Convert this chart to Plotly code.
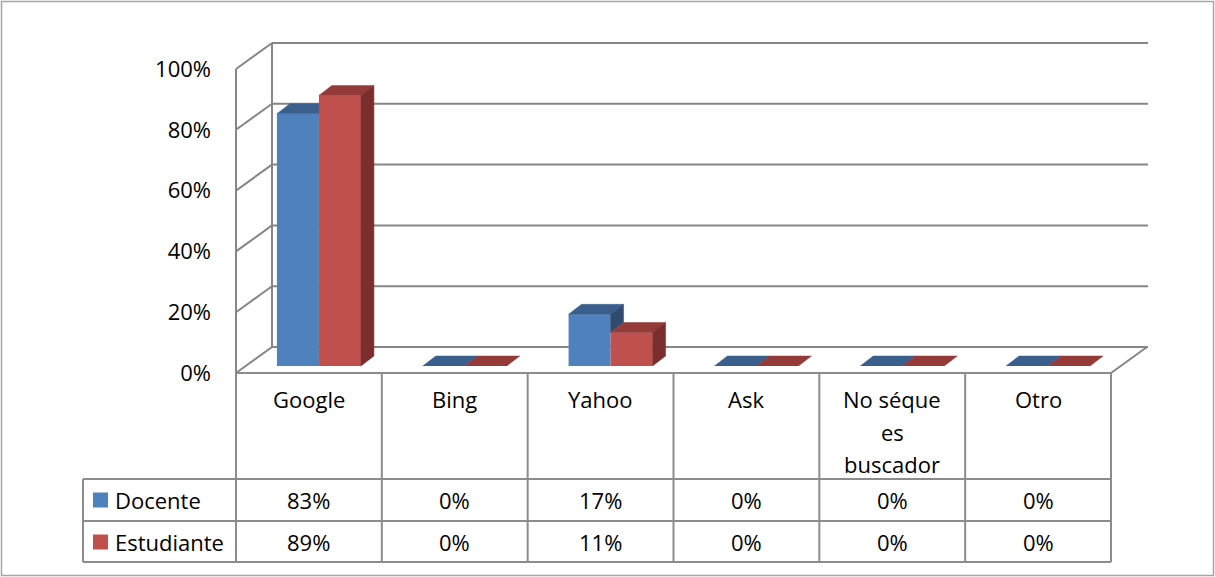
import plotly.graph_objects as go

# ---------------- data ----------------
categories = ["Google", "Bing", "Yahoo", "Ask", "No séque<br>es<br>buscador", "Otro"]
series_names = ["Docente", "Estudiante"]
docente = [83, 0, 17, 0, 0, 0]
estudiante = [89, 0, 11, 0, 0, 0]
y_ticks = [0, 20, 40, 60, 80, 100]
y_tick_labels = [f"{v}%" for v in y_ticks]

# ---------------- styling / geometry (pixels) ----------------
W, H = 1215, 577
FONT = "Open Sans"
FS = 22
GRID = "#868686"
TABLE = "#8C8C8C"
BLUE, BLUE_TOP, BLUE_SIDE = "#4F81BD", "#3B5F8C", "#2F4B70"
RED, RED_TOP, RED_SIDE = "#C0504D", "#943B39", "#7A2E2D"

FX0, FX1 = 236, 1111          # front plane x extent
FY0, FY100 = 373, 69          # front plane y for 0% / 100%
DEPTH_X, DEPTH_Y = 36, -26    # front -> back wall offset
BAR_DX, BAR_DY = 10, -7       # front -> bar plane offset
TOP_DX, TOP_DY = 13, -10      # bar depth
BAR_W_PX = 42
ROW_TOP, ROW_MID, ROW_BOT = 479, 521, 562
LABEL_X0 = 83

n = len(categories)
CW = (FX1 - FX0) / n
PXPU = (FY0 - FY100) / 100.0   # pixels per percent


def px(x):
    return x / W


def py(y):
    return 1 - y / H


def fy(v):
    return FY0 - v * PXPU


def by(v):
    return FY0 + DEPTH_Y - v * PXPU


fig = go.Figure()

bw = BAR_W_PX / CW
ddx = TOP_DX / CW
ddy = -TOP_DY / PXPU

fig.add_trace(go.Bar(x=list(range(n)), y=docente, width=bw, offset=-bw, name=series_names[0],
                     marker=dict(color=BLUE, line=dict(width=0)), showlegend=False))
fig.add_trace(go.Bar(x=list(range(n)), y=estudiante, width=bw, offset=0, name=series_names[1],
                     marker=dict(color=RED, line=dict(width=0)), showlegend=False))

# 3D faces built from the values
bt_x, bt_y, bs_x, bs_y, rt_x, rt_y, rs_x, rs_y = [], [], [], [], [], [], [], []
for i in range(n):
    vb, vr = docente[i], estudiante[i]
    x0, x1, x2 = i - bw, i, i + bw
    if vb < vr:
        bt_x += [x0, x1, x1, x0 + ddx, x0, None]
    else:
        bt_x += [x0, x1, x1 + ddx, x0 + ddx, x0, None]
    bt_y += [vb, vb, vb + ddy, vb + ddy, vb, None]
    if vb > vr:
        bs_x += [x1, x1, x1 + ddx, x1 + ddx, x1, None]
        bs_y += [vr, vb, vb + ddy, vr + ddy, vr, None]
    rt_x += [x1, x2, x2 + ddx, x1 + ddx, x1, None]
    rt_y += [vr, vr, vr + ddy, vr + ddy, vr, None]
    if vr > 0:
        rs_x += [x2, x2, x2 + ddx, x2 + ddx, x2, None]
        rs_y += [0, vr, vr + ddy, ddy, 0, None]

for xs, ys, col in [(bt_x, bt_y, BLUE_TOP), (bs_x, bs_y, BLUE_SIDE),
                    (rt_x, rt_y, RED_TOP), (rs_x, rs_y, RED_SIDE)]:
    if xs:
        fig.add_trace(go.Scatter(x=xs, y=ys, mode="lines", fill="toself", fillcolor=col,
                                 line=dict(width=0.5, color=col), hoverinfo="skip",
                                 showlegend=False))

# front plane axis (tick labels only)
fig.add_trace(go.Scatter(x=[0], y=[0], xaxis="x2", yaxis="y2", mode="markers",
                         marker=dict(opacity=0), hoverinfo="skip", showlegend=False))

shapes = []


def line(x0, y0, x1, y1, color, width=2, layer="below"):
    shapes.append(dict(type="line", xref="paper", yref="paper", x0=px(x0), y0=py(y0),
                       x1=px(x1), y1=py(y1), line=dict(color=color, width=width), layer=layer))


# walls and gridlines
for v in y_ticks:
    line(FX0 + DEPTH_X, by(v), 1148, by(v), GRID)
    line(FX0, fy(v), FX0 + DEPTH_X, by(v), GRID)
line(FX0, fy(100), FX0, FY0, GRID)
line(FX0 + DEPTH_X, by(100), FX0 + DEPTH_X, by(0), GRID)
line(FX1, FY0, FX1 + DEPTH_X, FY0 + DEPTH_Y, GRID)

# data table
line(FX0, FY0, FX1, FY0, TABLE, layer="above")
for k in range(n + 1):
    xk = FX0 + k * CW
    line(xk, FY0, xk, ROW_BOT, TABLE, layer="above")
for yk in [ROW_TOP, ROW_MID, ROW_BOT]:
    line(LABEL_X0, yk, FX1, yk, TABLE, layer="above")
line(LABEL_X0, ROW_TOP, LABEL_X0, ROW_BOT, TABLE, layer="above")

# legend keys
for r, col in enumerate([BLUE, RED]):
    yc = (ROW_TOP + ROW_MID) / 2 + r * (ROW_MID - ROW_TOP)
    shapes.append(dict(type="rect", xref="paper", yref="paper", x0=px(93), x1=px(108),
                       y0=py(yc - 7.5), y1=py(yc + 7.5), fillcolor=col, line=dict(width=0)))

# outer border
shapes.append(dict(type="rect", xref="paper", yref="paper", x0=px(1.5), x1=px(1213.5),
                   y0=py(575.5), y1=py(1.5), line=dict(color="#A6A6A6", width=1.5)))

annotations = []
font = dict(family=FONT, size=FS, color="#000000")
for i, cat in enumerate(categories):
    xc = FX0 + (i + 0.5) * CW
    for j, part in enumerate(cat.split("<br>")):
        annotations.append(dict(xref="paper", yref="paper", x=px(xc), y=py(399 + j * 32.5),
                                text=part, showarrow=False, font=font,
                                xanchor="center", yanchor="middle"))
    for r, vals in enumerate([docente, estudiante]):
        yc = (ROW_TOP + ROW_MID) / 2 + r * (ROW_MID - ROW_TOP)
        annotations.append(dict(xref="paper", yref="paper", x=px(xc), y=py(yc),
                                text=f"{vals[i]}%", showarrow=False, font=font,
                                xanchor="center", yanchor="middle"))
for r, name in enumerate(series_names):
    yc = (ROW_TOP + ROW_MID) / 2 + r * (ROW_MID - ROW_TOP)
    annotations.append(dict(xref="paper", yref="paper", x=px(113), y=py(yc), text=name,
                            showarrow=False, font=font, xanchor="left", yanchor="middle"))

fig.update_layout(
    width=W, height=H, margin=dict(l=0, r=0, t=0, b=0, autoexpand=False),
    paper_bgcolor="white", plot_bgcolor="rgba(0,0,0,0)",
    barmode="overlay", showlegend=False,
    xaxis=dict(domain=[px(FX0 + BAR_DX), px(FX1 + BAR_DX)], range=[-0.5, n - 0.5],
               visible=False, fixedrange=True, automargin=False),
    yaxis=dict(domain=[py(FY0 + BAR_DY), py(FY100 + BAR_DY)], range=[0, 100],
               visible=False, fixedrange=True, automargin=False),
    xaxis2=dict(domain=[px(FX0), px(FX1)], range=[0, 1], visible=False, anchor="y2",
                automargin=False),
    yaxis2=dict(domain=[py(FY0), py(FY100)], range=[0, 100], anchor="x2",
                tickmode="array", tickvals=y_ticks, ticktext=y_tick_labels,
                showgrid=False, zeroline=False, automargin=False,
                showline=False, ticks="", ticklabelstandoff=24,
                tickfont=dict(family=FONT, size=FS, color="#000000")),
    shapes=shapes, annotations=annotations,
)

fig.write_html("out.html", config={"displayModeBar": False},
               post_script="document.body.style.margin='0';")
